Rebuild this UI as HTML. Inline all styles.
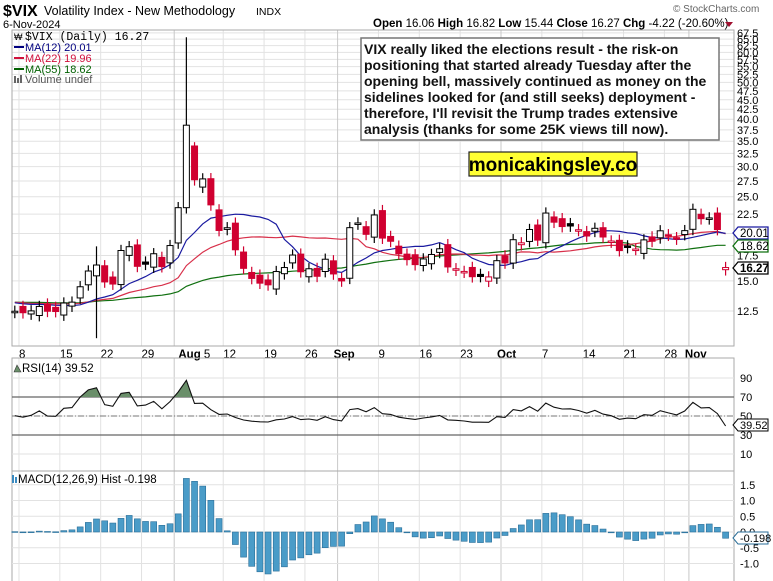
<!DOCTYPE html>
<html><head><meta charset="utf-8"><style>
body{margin:0;background:#fff;}
svg{display:block;font-family:"Liberation Sans",sans-serif;}
</style></head><body>
<svg id="s" width="773" height="581" xmlns="http://www.w3.org/2000/svg">
<rect width="773" height="581" fill="#fff"/>
<g id="grid"></g>
<g id="main"></g>
<text x="3" y="16" font-size="16" font-weight="bold">$VIX</text>
<text x="44" y="15" font-size="12.5">Volatility Index - New Methodology</text>
<text x="256" y="15" font-size="10.5">INDX</text>
<text x="3" y="28" font-size="11">6-Nov-2024</text>
<text x="673" y="12" font-size="10" fill="#666">© StockCharts.com</text>
<text x="373" y="27" font-size="11.5"><tspan font-weight="bold">Open</tspan> 16.06  <tspan font-weight="bold">High</tspan> 16.82  <tspan font-weight="bold">Low</tspan> 15.44  <tspan font-weight="bold">Close</tspan> 16.27  <tspan font-weight="bold">Chg</tspan> -4.22 (-20.60%)</text>
<polygon points="725,22 733,22 729,27" fill="#a01030"/>
<text x="25" y="40" font-size="11.5" font-family="Liberation Mono,monospace">$VIX (Daily) 16.27</text>
<text x="14" y="40" font-size="9">₩</text>
<line x1="14" y1="47" x2="24" y2="47" stroke="#000080" stroke-width="2"/><text x="25" y="51" font-size="11" fill="#000080">MA(12) 20.01</text>
<line x1="14" y1="58" x2="24" y2="58" stroke="#d0103a" stroke-width="2"/><text x="25" y="62" font-size="11" fill="#d0103a">MA(22) 19.96</text>
<line x1="14" y1="69" x2="24" y2="69" stroke="#006000" stroke-width="2"/><text x="25" y="73" font-size="11" fill="#006000">MA(55) 18.62</text>
<rect x="14" y="76" width="2" height="7" fill="#666"/><rect x="17" y="78" width="2" height="5" fill="#666"/><rect x="20" y="75" width="2" height="8" fill="#666"/>
<text x="25" y="83" font-size="11" fill="#555">Volume undef</text>
<rect x="361" y="38" width="358" height="102" fill="#fff" stroke="#777" stroke-width="1.5"/>
<g font-size="14" font-weight="bold" fill="#111">
<text x="364" y="54">VIX really liked the elections result - the risk-on</text>
<text x="364" y="70">positioning that started already Tuesday after the</text>
<text x="364" y="86">opening bell, massively continued as money on the</text>
<text x="364" y="102">sidelines looked for (and still seeks) deployment -</text>
<text x="364" y="118">therefore, I'll revisit the Trump trades extensive</text>
<text x="364" y="134">analysis (thanks for some 25K views till now).</text>
</g>
<rect x="469" y="152" width="168" height="24" fill="#ffff33" stroke="#222" stroke-width="1.2"/>
<text x="553" y="171" font-size="19" font-weight="bold" text-anchor="middle">monicakingsley.co</text>
<polygon points="14,372 17,365 21,372" fill="#6a8f6a" stroke="#333" stroke-width="0.6"/>
<text x="22" y="372" font-size="11.5">RSI(14) 39.52</text>
<text x="18" y="483" font-size="11.5">MACD(12,26,9) Hist -0.198</text>
<rect x="12" y="475" width="2" height="8" fill="#3a8ac0"/><rect x="15" y="477" width="2" height="6" fill="#3a8ac0"/>
</svg>
<script>
var C=[12.48,12.37,12.51,12.85,12.48,12.46,13.12,13.19,14.48,15.93,16.52,14.91,14.72,18.04,18.46,16.39,16.60,17.69,16.36,18.59,23.39,38.57,27.71,27.85,23.79,20.37,20.71,18.12,16.19,15.23,14.80,14.65,15.88,16.27,17.55,15.86,16.15,15.43,17.11,15.65,15.00,20.72,21.32,19.90,22.38,19.45,19.08,17.69,17.07,16.56,17.14,17.61,18.23,16.33,16.15,15.89,15.39,15.41,15.37,16.96,16.73,19.26,18.90,20.49,19.21,22.64,21.42,20.86,20.93,20.46,19.70,20.64,19.58,19.11,18.03,18.37,18.20,19.24,19.08,20.33,19.80,19.34,20.35,23.16,21.88,21.98,20.49,16.27];
var O={21:23.39,22:34.0,23:26.5,0:12.4};
O[87]=16.06;
var ns="http://www.w3.org/2000/svg";
function el(p,t,a){var e=document.createElementNS(ns,t);for(var k in a)e.setAttribute(k,a[k]);p.appendChild(e);return e;}
var G=document.getElementById('grid'),M=document.getElementById('main');
function X(i){return 14.8+8.17*i;}
function PY(v){return 311-164.9*Math.log(v/12.5);}
var L=12,R=734;
for(var v=12.5;v<=67.6;v+=2.5){var y=PY(v);el(G,'line',{x1:L,x2:R,y1:y,y2:y,stroke:'#e2e2e2'});
 var t=el(G,'text',{x:737,y:y+4,'font-size':11});t.textContent=v.toFixed(1);}
var labs=["8","15","22","29","Aug 5","12","19","26","Sep","9","16","23","Oct","7","14","21","28","Nov"];
var lx=[1,6,11,16,21,26,31,36,40,45,50,55,60,65,70,75,80,83];
var vlines=[1,6,11,16,20,26,31,36,40,45,50,55,60,65,70,75,80,83];
vlines.forEach(function(i,k){var x=X(i)-4;var dark=(k==4||k==8||k==12||k==17);
 [[30,346],[358,471],[471,581]].forEach(function(r){el(G,'line',{x1:x,x2:x,y1:r[0],y2:r[1],stroke:dark?'#c8c8c8':'#e2e2e2'});});});
lx.forEach(function(i,k){var s=labs[k];var b=/[A-Z]/.test(s);var t=el(G,'text',{x:X(i)-(b?8:4),y:358,'font-size':11.5,'font-weight':(s=="Sep"||s=="Oct"||s=="Nov"||s=="Aug 5")?'bold':'normal'});
 if(s=="Aug 5"){t.innerHTML='<tspan font-weight="bold">Aug</tspan><tspan font-weight="normal"> 5</tspan>';}else t.textContent=s;});
el(G,'rect',{x:L,y:30,width:R-L,height:316,fill:'none',stroke:'#aaa'});
el(G,'rect',{x:L,y:358,width:R-L,height:113,fill:'none',stroke:'#aaa'});
el(G,'rect',{x:L,y:471,width:R-L,height:115,fill:'none',stroke:'#aaa'});
function RY(v){return 463.5-0.95*v;}
[10,30,50,70,90].forEach(function(v){var y=RY(v);el(G,'line',{x1:L,x2:R,y1:y,y2:y,stroke:'#e2e2e2'});var t=el(G,'text',{x:740,y:y+4,'font-size':11});t.textContent=v;});
function MY(v){return 532-31.5*v;}
[1.5,1.0,0.5,0.0,-0.5,-1.0].forEach(function(v){var y=MY(v);el(G,'line',{x1:L,x2:R,y1:y,y2:y,stroke:'#e2e2e2'});var t=el(G,'text',{x:740,y:y+4,'font-size':11});t.textContent=v.toFixed(1);});
// MAs with padding
var pad=[];for(var i=0;i<60;i++)pad.push(13.2+0.4*Math.sin(i*0.7));
var all=pad.concat(C),off=pad.length;
function ma(n,col){var pts=[];for(var i=0;i<C.length;i++){var s=0;for(var j=0;j<n;j++)s+=all[off+i-j];pts.push(X(i).toFixed(1)+','+PY(s/n).toFixed(1));}
 el(M,'polyline',{points:pts.join(' '),fill:'none',stroke:col,'stroke-width':1.2});}
ma(55,'#107010');ma(22,'#d8304a');ma(12,'#1a1aa0');
for(var i=0;i<C.length;i++){var c=C[i],o=(O[i]!==undefined)?O[i]:(i?C[i-1]*(1+0.03*Math.sin(i*1.7)):c);
 var h=Math.max(o,c)*1.035,l=Math.min(o,c)*0.965;
 if(i==21)h=65.73; if(i==10){h=18.5;l=10.6;} if(i==22)h=34.8;
 var red=i>0&&c<C[i-1];var col=red?'#d00030':'#000';var x=X(i);
 el(M,'line',{x1:x,x2:x,y1:PY(h),y2:PY(l),stroke:col,'stroke-width':1.2});
 var t=PY(Math.max(o,c)),b=PY(Math.min(o,c));if(b-t<1.5){b=t+1.5;}
 el(M,'rect',{x:x-3,y:t,width:6,height:b-t,fill:(c>o)?'#fff':col,stroke:col,'stroke-width':1});}
function box(y,txt,col,bold){el(M,'polygon',{points:'733,'+y+' 738,'+(y-6)+' 768,'+(y-6)+' 768,'+(y+6)+' 738,'+(y+6),fill:'#fff',stroke:col,'stroke-width':1.3});
 var t=el(M,'text',{x:740,y:y+4,'font-size':11.5,'font-weight':bold?'bold':'normal'});t.textContent=txt;}
box(233,'20.01','#1a1aa0');box(246,'18.62','#107010');box(268,'16.27','#000',true);
// indicator padding (neutral)
var pad2=[];for(var i=0;i<60;i++)pad2.push(12.45+0.35*Math.sin(i*1.3));
var all2=pad2.concat(C);
var gains=0,losses=0,rsi=[];
for(var i=1;i<all2.length;i++){var d=all2[i]-all2[i-1];var g=Math.max(d,0),lo=Math.max(-d,0);
 if(i<=14){gains+=g/14;losses+=lo/14;}else{gains=(gains*13+g)/14;losses=(losses*13+lo)/14;}
 if(i>=off)rsi.push(100-100/(1+gains/(losses||1e-6)));}
el(M,'line',{x1:L,x2:R,y1:RY(70),y2:RY(70),stroke:'#666','stroke-width':1.2});
el(M,'line',{x1:L,x2:R,y1:RY(30),y2:RY(30),stroke:'#666','stroke-width':1.2});
el(M,'line',{x1:L,x2:R,y1:RY(50),y2:RY(50),stroke:'#777','stroke-dasharray':'6,2,1,2'});
var rp=rsi.map(function(v,i){return X(i).toFixed(1)+','+RY(v).toFixed(1);});
var cp=el(M,'clipPath',{id:'c70'});el(cp,'rect',{x:0,y:0,width:773,height:RY(70)});
el(M,'polygon',{points:X(0)+','+RY(70)+' '+rp.join(' ')+' '+X(C.length-1)+','+RY(70),fill:'#6a8f6a','clip-path':'url(#c70)'});
el(M,'polyline',{points:rp.join(' '),fill:'none',stroke:'#111','stroke-width':1.1});
el(M,'polygon',{points:'733,425 738,419 768,419 768,431 738,431',fill:'#fff',stroke:'#000'});
var t=el(M,'text',{x:740,y:429,'font-size':11});t.textContent='39.52';
function ema(arr,n){var k=2/(n+1),r=[],e=arr[0];for(var i=0;i<arr.length;i++){e=arr[i]*k+e*(1-k);r.push(e);}return r;}
var e12=ema(all2,12),e26=ema(all2,26),mac=e12.map(function(v,i){return v-e26[i];}),sig=ema(mac,9);
for(var i=0;i<C.length;i++){var h=mac[off+i]-sig[off+i];if(i==C.length-1)h=-0.198;var y0=MY(0),y1=MY(h);
 el(M,'rect',{x:X(i)-3,y:Math.min(y0,y1),width:6,height:Math.max(Math.abs(y1-y0),0.8),fill:'#4a9cc8',stroke:'#2a6e98','stroke-width':0.6});}
el(M,'polygon',{points:'733,538 738,532 768,532 768,544 738,544',fill:'#fff',stroke:'#2a6e98'});
t=el(M,'text',{x:740,y:542,'font-size':11});t.textContent='-0.198';
</script>
</body></html>
